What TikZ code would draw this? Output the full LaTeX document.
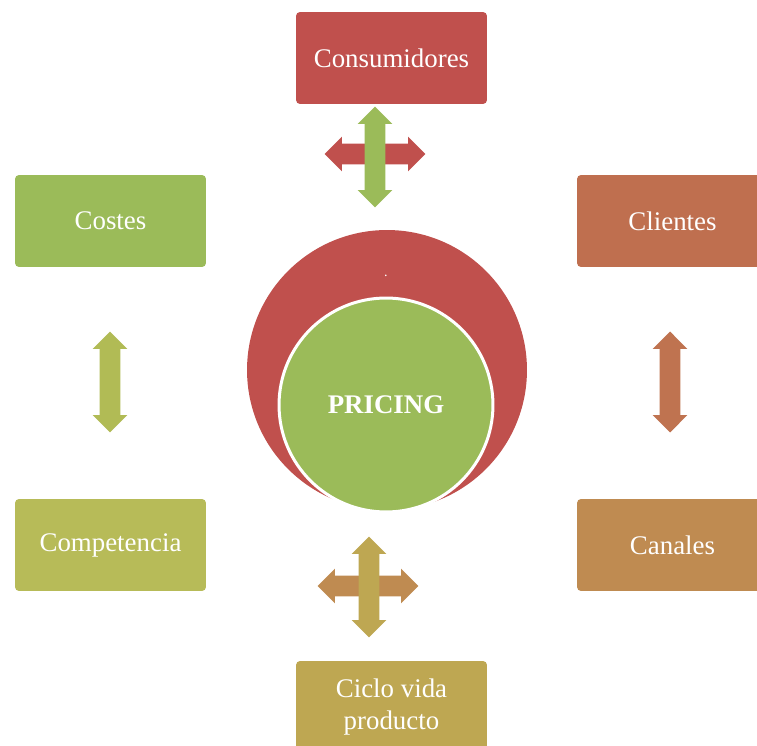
\documentclass[tikz,border=0pt]{standalone}
\usepackage{fontspec}
\setmainfont{Liberation Serif}
\usetikzlibrary{shapes.arrows,positioning}
\definecolor{consred}{HTML}{C0504D}
\definecolor{clired}{HTML}{BF6F4F}
\definecolor{canorange}{HTML}{BF8B51}
\definecolor{cicloyellow}{HTML}{BEA752}
\definecolor{compolive}{HTML}{B7BB58}
\definecolor{costgreen}{HTML}{9BBB59}
\definecolor{leftolive}{HTML}{B1BB55}
\definecolor{rightred}{HTML}{BF7350}

\begin{document}
\begin{tikzpicture}[x=0.02cm, y=-0.02cm,
  factor/.style={rectangle, rounded corners=0.08cm, fill=#1, minimum width=3.82cm, minimum height=1.84cm, text=white, align=center, font=\fontsize{15.3}{18}\selectfont},
  twoway/.style={double arrow, fill=#1, inner xsep=0pt, inner ysep=0.2cm, minimum width=0.68cm, minimum height=2.02cm, double arrow head extend=0.14cm}]

\useasboundingbox (0,0) rectangle (757,746);
\clip (0,0) rectangle (757,746);

% CENTRE

\node [circle, fill=consred, minimum size=5.6cm, inner sep=0pt] (outer) at (387,370) {};
\node [white, font=\fontsize{8}{8}\selectfont] (dot) at (386,276) {.};
\node [circle, fill=costgreen, draw=white, line width=0.06cm, minimum size=4.28cm, inner sep=0pt, text=white, font=\fontsize{15.3}{18}\selectfont\bfseries] (pricing) at (386,405) {PRICING};

% FACTORS

\node [factor=consred] (consumidores) at (391.5,58) {Consumidores};
\node [factor=costgreen] (costes) at (110.5,221) {Costes};
\node [factor=clired] (clientes) at (672.5,221) {Clientes};
\node [factor=compolive] (competencia) at (110.5,545) {Competencia};
\node [factor=canorange] (canales) at (672.5,545) {Canales};
\node [factor=cicloyellow] (ciclo) at (391.5,707) {Ciclo vida\\producto};

% ARROWS

\node [twoway=consred] (toph) at (375,154) {};
\node [twoway=costgreen, rotate=90] (topv) at (375,157) {};
\node [twoway=leftolive, rotate=90] (leftv) at (110,382) {};
\node [twoway=rightred, rotate=90] (rightv) at (670,382) {};
\node [twoway=canorange] (both) at (368,586) {};
\node [twoway=cicloyellow, rotate=90] (botv) at (369,587) {};

\end{tikzpicture}
\end{document}
